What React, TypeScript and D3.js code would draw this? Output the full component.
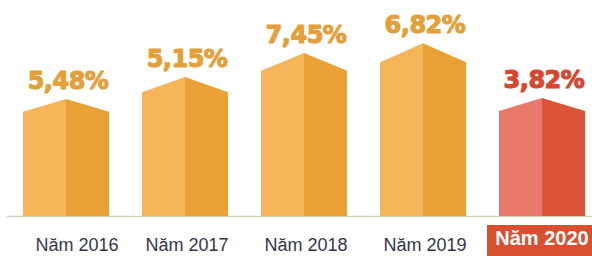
import React from "react";
import * as d3 from "d3";

const years = ["Năm 2016", "Năm 2017", "Năm 2018", "Năm 2019", "Năm 2020"];
const valueLabels = ["5,48%", "5,15%", "7,45%", "6,82%", "3,82%"];
// apparent drawn heights of the infographic bars (not proportional to the values)
const barLevels = [5.42, 6.44, 7.55, 8.0, 5.46];
const highlighted = [false, false, false, false, true];

const W = 592;
const H = 256;

export default function App() {
  const x = d3
    .scaleBand<string>()
    .domain(years)
    .range([23, 585])
    .paddingInner(0.277)
    .paddingOuter(0);
  const y = d3.scaleLinear().domain([0, 10]).range([216, 0]);
  const base = y(0);
  const bw = x.bandwidth();

  return (
    <svg
      width={W}
      height={H}
      style={{ position: "absolute", left: 0, top: 0, display: "block", background: "#fff" }}
    >
      <line x1={7} x2={592} y1={base + 0.5} y2={base + 0.5} stroke="#d3d2bd" strokeWidth={1.5} />
      {years.map((yr, i) => {
        const x0 = x(yr)!;
        const xm = x0 + bw / 2;
        const x1 = x0 + bw;
        const peak = y(barLevels[i]);
        const rise = (base - peak) * 0.11;
        const edge = peak + rise;
        const red = highlighted[i];
        const leftFill = red ? "#e8796a" : "#f6b559";
        const rightFill = red ? "#db5438" : "#e9a136";
        const labelFill = red ? "#d5472f" : "#e59f3a";
        const left = d3.path();
        left.moveTo(x0, base);
        left.lineTo(x0, edge);
        left.lineTo(xm, peak);
        left.lineTo(xm, base);
        left.closePath();
        const right = d3.path();
        right.moveTo(xm, base);
        right.lineTo(xm, peak);
        right.lineTo(x1, edge);
        right.lineTo(x1, base);
        right.closePath();
        return (
          <g key={yr}>
            <path d={left.toString()} fill={leftFill} />
            <path d={right.toString()} fill={rightFill} />
            <text
              x={xm + 2}
              y={peak - 10}
              textAnchor="middle"
              fontFamily="DejaVu Sans"
              fontWeight="bold"
              fontSize={24}
              fill={labelFill}
              stroke={labelFill}
              strokeWidth={1.1}
              strokeLinejoin="round"
              letterSpacing={-0.5}
            >
              {valueLabels[i]}
            </text>
            {red ? (
              <g>
                <rect x={487} y={225} width={105} height={31} fill="#d9502f" />
                <text
                  x={xm}
                  y={244.5}
                  textAnchor="middle"
                  fontFamily="Liberation Sans, Arial, sans-serif"
                  fontWeight="bold"
                  fontSize={20}
                  fill="#ffffff"
                >
                  {yr}
                </text>
              </g>
            ) : (
              <text
                x={xm + (i === 0 ? 11 : 2)}
                y={251}
                textAnchor="middle"
                fontFamily="Liberation Sans, Arial, sans-serif"
                fontSize={18}
                fill="#35354a"
              >
                {yr}
              </text>
            )}
          </g>
        );
      })}
    </svg>
  );
}
